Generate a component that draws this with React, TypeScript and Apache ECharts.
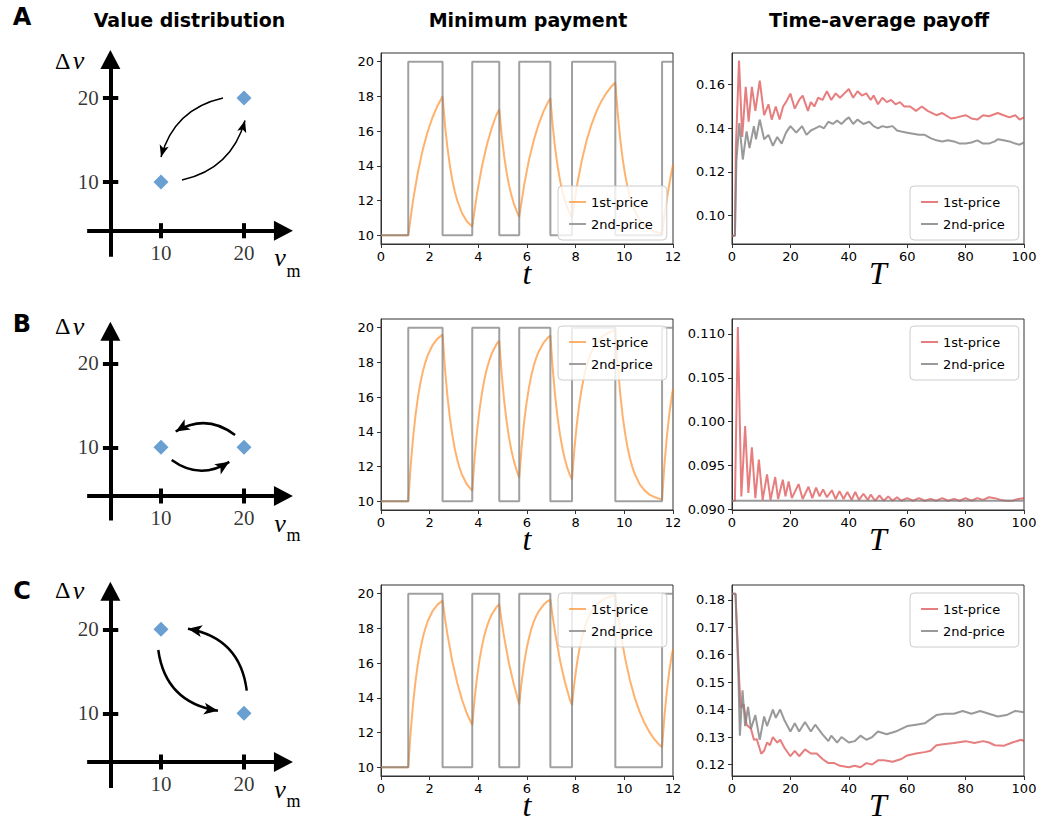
import React, { useEffect, useRef } from "react";
import * as echarts from "echarts";

// ---------------- DATA ----------------
// Value-distribution diagrams (v_m, Δν) — the two states per scenario
const diagTicks = [10, 20];
const diamondsA = [[10, 10], [20, 20]];
const diamondsB = [[10, 10], [20, 10]];
const diamondsC = [[10, 20], [20, 10]];

// Minimum payment panels
const paymentYTicks = [10, 12, 14, 16, 18, 20];
const secondPricePayment = [
  [0, 10], [1.12, 20], [2.53, 10], [3.75, 20], [4.86, 10], [5.68, 20],
  [6.96, 10], [7.85, 20], [9.63, 10], [11.55, 20], [12, 20],
];
const firstPricePaymentA = [
  [0, 10], [1.12, 10], [1.32, 12.04], [1.52, 13.66], [1.72, 14.95], [1.92, 15.98], [2.12, 16.8], [2.32, 17.45], [2.53, 18.0],
  [2.63, 16.35], [2.73, 15.05], [2.83, 14.02], [2.93, 13.19], [3.03, 12.54], [3.13, 12.02], [3.33, 11.27], [3.53, 10.8], [3.75, 10.5],
  [3.95, 12.44], [4.15, 13.98], [4.35, 15.2], [4.55, 16.18], [4.75, 16.96], [4.86, 17.25],
  [4.96, 15.76], [5.06, 14.57], [5.16, 13.64], [5.26, 12.89], [5.36, 12.3], [5.46, 11.83], [5.57, 11.41], [5.68, 11.05],
  [5.88, 12.88], [6.08, 14.33], [6.28, 15.48], [6.48, 16.4], [6.68, 17.14], [6.84, 17.6], [6.96, 17.9],
  [7.06, 16.27], [7.16, 14.98], [7.26, 13.97], [7.36, 13.15], [7.46, 12.5], [7.56, 11.99], [7.66, 11.58], [7.76, 11.27], [7.85, 11.0],
  [8.05, 12.84], [8.25, 14.29], [8.45, 15.46], [8.65, 16.38], [8.85, 17.12], [9.05, 17.71], [9.25, 18.17], [9.45, 18.54], [9.63, 18.8],
  [9.73, 16.99], [9.83, 15.55], [9.93, 14.42], [10.03, 13.51], [10.13, 12.79], [10.23, 12.22], [10.33, 11.78], [10.43, 11.4],
  [10.63, 10.88], [10.83, 10.56], [11.03, 10.35], [11.23, 10.22], [11.55, 10.1],
  [11.65, 11.17], [11.75, 12.12], [11.9, 13.36], [12, 14.07],
];
const firstPricePaymentB = [
  [0, 10], [1.12, 10], [1.22, 12.06], [1.32, 13.69], [1.42, 14.98], [1.52, 16.01], [1.62, 16.83], [1.72, 17.48], [1.82, 17.99], [1.92, 18.41], [2.12, 19.0], [2.32, 19.37], [2.53, 19.6],
  [2.63, 17.62], [2.73, 16.06], [2.83, 14.82], [2.93, 13.83], [3.03, 13.04], [3.13, 12.42], [3.23, 11.92], [3.33, 11.53], [3.53, 10.97], [3.75, 10.6],
  [3.85, 12.54], [3.95, 14.07], [4.05, 15.28], [4.15, 16.25], [4.25, 17.02], [4.35, 17.63], [4.45, 18.1], [4.55, 18.51], [4.75, 19.06], [4.86, 19.25],
  [4.96, 17.33], [5.06, 15.82], [5.16, 14.63], [5.26, 13.68], [5.36, 12.93], [5.46, 12.33], [5.57, 11.8], [5.68, 11.35],
  [5.78, 13.13], [5.88, 14.54], [5.98, 15.66], [6.08, 16.55], [6.18, 17.26], [6.28, 17.82], [6.38, 18.27], [6.48, 18.62], [6.68, 19.13], [6.84, 19.4], [6.96, 19.55],
  [7.06, 17.58], [7.16, 16.03], [7.26, 14.79], [7.36, 13.81], [7.46, 13.03], [7.56, 12.41], [7.66, 11.91], [7.76, 11.52], [7.85, 11.25],
  [7.95, 13.05], [8.05, 14.48], [8.15, 15.61], [8.25, 16.51], [8.35, 17.23], [8.45, 17.79], [8.55, 18.25], [8.65, 18.61], [8.85, 19.12], [9.05, 19.45], [9.25, 19.65], [9.45, 19.78], [9.63, 19.85],
  [9.73, 17.82], [9.83, 16.22], [9.93, 14.94], [10.03, 13.93], [10.13, 13.12], [10.23, 12.48], [10.33, 11.97], [10.43, 11.57],
  [10.63, 10.99], [10.83, 10.63], [11.03, 10.39], [11.23, 10.25], [11.55, 10.1],
  [11.65, 12.14], [11.75, 13.75], [11.85, 15.03], [11.95, 16.05], [12, 16.48],
];
const firstPricePaymentC = [
  [0, 10], [1.12, 10], [1.22, 12.06], [1.32, 13.69], [1.42, 14.98], [1.52, 16.01], [1.62, 16.83], [1.72, 17.48], [1.82, 17.99], [1.92, 18.41], [2.12, 19.0], [2.32, 19.37], [2.53, 19.6],
  [2.63, 18.57], [2.73, 17.66], [2.93, 16.11], [3.13, 14.88], [3.33, 13.89], [3.53, 13.1], [3.75, 12.43],
  [3.85, 13.99], [3.95, 15.22], [4.05, 16.2], [4.15, 16.98], [4.25, 17.6], [4.35, 18.09], [4.45, 18.49], [4.55, 18.8], [4.75, 19.24], [4.86, 19.4],
  [4.96, 18.39], [5.06, 17.5], [5.26, 15.98], [5.46, 14.77], [5.57, 14.21], [5.68, 13.62],
  [5.78, 14.93], [5.88, 15.97], [5.98, 16.8], [6.08, 17.45], [6.18, 17.98], [6.28, 18.39], [6.38, 18.72], [6.48, 18.98], [6.68, 19.36], [6.84, 19.56], [6.96, 19.66],
  [7.06, 18.63], [7.16, 17.71], [7.36, 16.14], [7.56, 14.9], [7.76, 13.91], [7.85, 13.58],
  [7.95, 14.9], [8.05, 15.95], [8.15, 16.78], [8.25, 17.44], [8.35, 17.96], [8.45, 18.38], [8.55, 18.71], [8.65, 18.98], [8.85, 19.36], [9.05, 19.6], [9.25, 19.74], [9.45, 19.84], [9.63, 19.89],
  [9.73, 18.83], [9.83, 17.89], [10.03, 16.29], [10.23, 15.02], [10.43, 14.0], [10.63, 13.19], [10.83, 12.55], [11.03, 12.04], [11.23, 11.62], [11.43, 11.31], [11.55, 11.15],
  [11.65, 12.97], [11.75, 14.42], [11.85, 15.56], [11.95, 16.47], [12, 16.8],
];

// Time-average payoff panels
const payoffYTicksA = [0.1, 0.12, 0.14, 0.16];
const payoffYTicksB = [0.09, 0.095, 0.1, 0.105, 0.11];
const payoffYTicksC = [0.12, 0.13, 0.14, 0.15, 0.16, 0.17, 0.18];

const payoff1stA = [
  [0, 0.0908], [1, 0.0908], [1.3, 0.13], [2.4, 0.1711], [3.5, 0.136], [4.7, 0.159], [5.7, 0.143], [6.8, 0.159], [8, 0.148],
  [9.5, 0.1618], [11, 0.146], [12.5, 0.151], [13.6, 0.144], [15, 0.15], [16.3, 0.144], [17.5, 0.15], [18.5, 0.152], [20, 0.1559],
  [21.5, 0.149], [23, 0.153], [24.2, 0.155], [26, 0.148], [27, 0.152], [28.2, 0.15], [29.5, 0.154], [31, 0.153], [32.5, 0.157],
  [34, 0.153], [35.5, 0.156], [37, 0.154], [38.5, 0.156], [40, 0.158], [41.5, 0.154], [43, 0.157], [44.5, 0.155], [46, 0.156],
  [47.5, 0.153], [48.5, 0.155], [50, 0.151], [51.5, 0.154], [53, 0.152], [54.5, 0.153], [56, 0.151], [57.5, 0.152], [59, 0.15],
  [61, 0.15], [63, 0.148], [65, 0.15], [67, 0.148], [70, 0.146], [72, 0.147], [75, 0.1445], [77, 0.145], [80, 0.146], [82, 0.1445],
  [84, 0.144], [86, 0.146], [88, 0.1455], [91, 0.147], [93, 0.146], [95, 0.145], [97, 0.146], [98.5, 0.144], [100, 0.145],
];
const payoff2ndA = [
  [0, 0.0908], [1, 0.0908], [1.5, 0.125], [2.5, 0.1424], [3.7, 0.1257], [5, 0.1386], [6, 0.131], [7.5, 0.141], [8.2, 0.135],
  [9.5, 0.144], [11, 0.135], [12.5, 0.137], [14, 0.132], [15.5, 0.136], [17, 0.133], [18.5, 0.138], [20, 0.141], [22, 0.138],
  [24, 0.141], [25.5, 0.137], [27, 0.139], [28.5, 0.14], [30, 0.141], [31.5, 0.14], [33, 0.143], [34.5, 0.142], [36, 0.1435],
  [37.5, 0.142], [39, 0.144], [40, 0.145], [41.5, 0.142], [43, 0.144], [45, 0.142], [47, 0.143], [48.5, 0.141], [50, 0.14],
  [51.5, 0.141], [53, 0.1405], [55, 0.141], [56.5, 0.139], [58, 0.1385], [60, 0.138], [62, 0.1375], [64, 0.137], [66, 0.137],
  [68, 0.1355], [70, 0.1345], [72, 0.134], [74, 0.1345], [76, 0.134], [78, 0.133], [80, 0.133], [82, 0.1335], [84, 0.1345],
  [86, 0.133], [88, 0.133], [90, 0.134], [91, 0.135], [93, 0.1345], [95, 0.134], [97, 0.133], [98.5, 0.1325], [100, 0.1335],
];
const payoff1stB = [
  [0, 0.091], [1, 0.091], [2, 0.1108], [3.2, 0.0915], [4.5, 0.0995], [5.6, 0.0919], [6.8, 0.0971], [8, 0.0913], [9.2, 0.0957],
  [10.5, 0.0911], [12, 0.094], [13.2, 0.0911], [14.8, 0.0937], [15.8, 0.0912], [17.4, 0.0934], [18.3, 0.0915], [19.4, 0.0932],
  [20.5, 0.0913], [22.8, 0.0929], [24.2, 0.0912], [26.2, 0.0926], [27.5, 0.0913], [28.8, 0.0925], [30, 0.0915], [31.2, 0.0923],
  [32.5, 0.0914], [34.2, 0.0922], [35.5, 0.0912], [36.8, 0.0921], [38.2, 0.0912], [39.5, 0.092], [41, 0.0911], [42.2, 0.092],
  [43.5, 0.0911], [45, 0.0918], [46.5, 0.0911], [47.5, 0.0917], [49, 0.091], [50.5, 0.0916], [52, 0.091], [53.5, 0.0915],
  [55, 0.091], [56.5, 0.0914], [58, 0.091], [60, 0.0913], [62, 0.091], [64, 0.0913], [66, 0.091], [68, 0.0912], [70, 0.091],
  [72, 0.0913], [74, 0.091], [76, 0.0912], [78, 0.091], [80, 0.0913], [82, 0.091], [84, 0.0913], [86, 0.0911], [88, 0.0914],
  [90, 0.0913], [92, 0.0911], [94, 0.091], [96, 0.091], [98, 0.0912], [100, 0.0913],
];
const payoff2ndB = [[0, 0.091], [100, 0.091]];
const payoff1stC = [
  [0, 0.1822], [1.2, 0.1822], [2.5, 0.15], [3, 0.1405], [4, 0.142], [5, 0.1345], [6.5, 0.133], [7.5, 0.129], [8.5, 0.1292],
  [10, 0.1239], [11, 0.125], [12, 0.128], [13, 0.127], [14, 0.13], [15.5, 0.128], [16.5, 0.129], [18, 0.126], [20, 0.123],
  [21.5, 0.125], [23, 0.123], [25, 0.1255], [27, 0.124], [29, 0.124], [31, 0.122], [33, 0.1205], [35, 0.1205], [37, 0.1195],
  [40, 0.119], [42, 0.1195], [44, 0.119], [46, 0.1205], [48, 0.12], [50, 0.1215], [52, 0.1215], [55, 0.121], [58, 0.122],
  [60, 0.1233], [63, 0.124], [66, 0.1245], [68, 0.125], [70, 0.127], [73, 0.1275], [76, 0.1278], [80, 0.1285], [83, 0.1278],
  [86, 0.1285], [88, 0.128], [90, 0.127], [93, 0.1268], [96, 0.128], [99, 0.129], [100, 0.1285],
];
const payoff2ndC = [
  [0, 0.1822], [1.2, 0.1822], [2.2, 0.152], [2.7, 0.1305], [3.6, 0.147], [4.5, 0.134], [5.5, 0.141], [6.5, 0.133], [8, 0.138],
  [9.5, 0.129], [11, 0.1375], [12, 0.134], [14, 0.14], [15, 0.137], [16.5, 0.14], [18, 0.136], [20, 0.132], [21.5, 0.135],
  [23, 0.132], [25, 0.1355], [27, 0.132], [28.5, 0.1345], [31, 0.131], [33, 0.1285], [34, 0.1305], [36, 0.128], [37.5, 0.13],
  [40, 0.128], [42, 0.1285], [44, 0.1305], [46, 0.129], [48, 0.13], [50, 0.132], [53, 0.131], [56, 0.132], [60, 0.134],
  [63, 0.1345], [66, 0.135], [70, 0.138], [73, 0.1385], [76, 0.1385], [79, 0.1395], [82, 0.1385], [85, 0.1395], [88, 0.1385],
  [91, 0.1375], [94, 0.138], [97, 0.1395], [100, 0.139],
];

// ---------------- STYLE / LAYOUT ----------------
const SANS = "'DejaVu Sans', 'Liberation Sans', sans-serif";
const SERIF = "'Liberation Serif', 'DejaVu Serif', serif";
const ORANGE = "rgba(255,127,14,0.6)";
const GRAY_MID = "rgba(128,128,128,0.75)";
const RED = "rgba(214,39,40,0.6)";
const GRAY_RIGHT = "rgba(128,128,128,0.8)";
const DIAMOND = "#6a9fd2";
const AXIS_COLOR = "#333";

const MID_LEFT = 381;
const RIGHT_LEFT = 732;
const PLOT_W = 292;
const PLOT_H = 191;
const ROW_TOP = [53, 319, 585];
const DIAG_TOP = [14, 279.3, 545.3];
const CROSS_X = 3.9;
const CROSS_Y = 4.2;

const rows = [
  {
    letter: "A", letterY: 16.7, diamonds: diamondsA, firstPay: firstPricePaymentA,
    p1: payoff1stA, p2: payoff2ndA, pyMin: 0.087, pyMax: 0.1745, pyTicks: payoffYTicksA, pyDec: 2,
    vTop: 24.57, vBottom: 1.1, curv: -0.3, arrowWidth: 1.5, head: [7, 12],
    arrows: [
      [[17.47, 20.0], [10.0, 12.98]],
      [[12.53, 10.24], [20.12, 17.32]],
    ],
    deltaY: 60.5, vmY: 257, mY: 270.5, legendTop: 186,
  },
  {
    letter: "B", letterY: 324, diamonds: diamondsB, firstPay: firstPricePaymentB,
    p1: payoff1stB, p2: payoff2ndB, pyMin: 0.08995, pyMax: 0.1117, pyTicks: payoffYTicksB, pyDec: 3,
    vTop: 23.82, vBottom: 1.3, curv: -0.34, arrowWidth: 2.5, head: [9, 14],
    arrows: [
      [[18.92, 11.46], [11.77, 11.88]],
      [[11.29, 8.49], [18.23, 8.27]],
    ],
    deltaY: 326, vmY: 523, mY: 535, legendTop: 326,
  },
  {
    letter: "C", letterY: 590.8, diamonds: diamondsC, firstPay: firstPricePaymentC,
    p1: payoff1stC, p2: payoff2ndC, pyMin: 0.1158, pyMax: 0.1854, pyTicks: payoffYTicksC, pyDec: 2,
    vTop: 24.54, vBottom: 1.1, curv: -0.37, arrowWidth: 2.5, head: [9, 14],
    arrows: [
      [[20.33, 12.69], [13.25, 20.07]],
      [[9.67, 17.54], [16.86, 10.3]],
    ],
    deltaY: 590, vmY: 789, mY: 801, legendTop: 593,
  },
];

function buildOption() {
  const grids: any[] = [];
  const xAxes: any[] = [];
  const yAxes: any[] = [];
  const series: any[] = [];
  const legends: any[] = [];
  const graphics: any[] = [];

  const tickLabelStyle = { fontFamily: SANS, fontSize: 13, color: "#000", margin: 6 };
  const axisLineStyle = { show: true, onZero: false, lineStyle: { color: AXIS_COLOR, width: 1 } };
  const axisTickStyle = { show: true, length: 4, lineStyle: { color: AXIS_COLOR, width: 1 } };
  const nameStyle = { fontFamily: SERIF, fontStyle: "italic", fontSize: 32, color: "#000", lineHeight: 18 };

  const txt = (text: string, x: number, y: number, o: any = {}) => ({
    type: "text",
    x,
    y,
    silent: true,
    style: {
      text,
      fill: "#000",
      textAlign: o.align || "center",
      align: o.align || "center",
      textVerticalAlign: "middle",
      verticalAlign: "middle",
      fontFamily: o.family || SANS,
      fontSize: o.size || 13,
      fontWeight: o.weight || "normal",
      fontStyle: o.style || "normal",
    },
  });

  graphics.push(txt("Value distribution", 189.5, 19.7, { size: 19, weight: "bold" }));
  graphics.push(txt("Minimum payment", 528, 19.7, { size: 19, weight: "bold" }));
  graphics.push(txt("Time-average payoff", 879, 19.7, { size: 19, weight: "bold" }));

  rows.forEach((r, i) => {
    const gD = i * 3;
    const gM = i * 3 + 1;
    const gR = i * 3 + 2;

    // --- diagram grid (hidden axes, used for positioning marks) ---
    grids.push({ left: 78, top: DIAG_TOP[i], width: 249, height: 252, show: false, containLabel: false, outerBoundsMode: "none" });
    xAxes.push({ type: "value", gridIndex: gD, min: 0, max: 30, show: false });
    yAxes.push({ type: "value", gridIndex: gD, min: 0, max: 30, show: false });

    // --- minimum payment grid ---
    grids.push({
      left: MID_LEFT, top: ROW_TOP[i], width: PLOT_W, height: PLOT_H,
      show: true, borderColor: AXIS_COLOR, borderWidth: 1, backgroundColor: "transparent",
      containLabel: false, outerBoundsMode: "none",
    });
    xAxes.push({
      type: "value", gridIndex: gM, min: 0, max: 12, interval: 2,
      axisLine: axisLineStyle, axisTick: axisTickStyle, axisLabel: tickLabelStyle,
      splitLine: { show: false },
      name: "t", nameLocation: "middle", nameGap: 20, nameMoveOverlap: false, nameTextStyle: nameStyle,
    });
    yAxes.push({
      type: "value", gridIndex: gM, min: 9.5, max: 20.5,
      axisLine: axisLineStyle,
      axisTick: { ...axisTickStyle, customValues: paymentYTicks },
      axisLabel: { ...tickLabelStyle, margin: 7, customValues: paymentYTicks },
      splitLine: { show: false },
    });

    // --- payoff grid ---
    grids.push({
      left: RIGHT_LEFT, top: ROW_TOP[i], width: PLOT_W, height: PLOT_H,
      show: true, borderColor: AXIS_COLOR, borderWidth: 1, backgroundColor: "transparent",
      containLabel: false, outerBoundsMode: "none",
    });
    xAxes.push({
      type: "value", gridIndex: gR, min: 0, max: 100, interval: 20,
      axisLine: axisLineStyle, axisTick: axisTickStyle, axisLabel: tickLabelStyle,
      splitLine: { show: false },
      name: "T", nameLocation: "middle", nameGap: 20, nameMoveOverlap: false, nameTextStyle: nameStyle,
    });
    const dec = r.pyDec;
    yAxes.push({
      type: "value", gridIndex: gR, min: r.pyMin, max: r.pyMax,
      axisLine: axisLineStyle,
      axisTick: { ...axisTickStyle, customValues: r.pyTicks },
      axisLabel: { ...tickLabelStyle, margin: 7, customValues: r.pyTicks, formatter: (v: number) => v.toFixed(dec) },
      splitLine: { show: false },
    });

    // ---------- diagram series ----------
    series.push({
      type: "lines", coordinateSystem: "cartesian2d", xAxisIndex: gD, yAxisIndex: gD, silent: true,
      symbol: ["none", "triangle"], symbolSize: [0, [20, 19]],
      lineStyle: { color: "#000", width: 4, opacity: 1, curveness: 0 },
      data: [
        { coords: [[1.1, CROSS_Y], [24.75, CROSS_Y]] },
        { coords: [[CROSS_X, r.vBottom], [CROSS_X, r.vTop]] },
      ],
      z: 3,
    });
    series.push({
      type: "lines", coordinateSystem: "cartesian2d", xAxisIndex: gD, yAxisIndex: gD, silent: true,
      symbol: ["none", "none"],
      lineStyle: { color: "#000", width: 4, opacity: 1, curveness: 0 },
      data: [
        ...diagTicks.map((v) => ({ coords: [[v, CROSS_Y - 0.9], [v, CROSS_Y + 0.9]] })),
        ...diagTicks.map((v) => ({ coords: [[CROSS_X - 0.9, v], [CROSS_X + 0.95, v]] })),
      ],
      z: 3,
    });
    series.push({
      type: "lines", coordinateSystem: "cartesian2d", xAxisIndex: gD, yAxisIndex: gD, silent: true,
      symbol: ["none", "arrow"], symbolSize: [0, r.head],
      lineStyle: { color: "#000", width: r.arrowWidth, opacity: 1, curveness: r.curv },
      data: r.arrows.map((a) => ({ coords: a })),
      z: 3,
    });
    series.push({
      type: "scatter", xAxisIndex: gD, yAxisIndex: gD, silent: true,
      symbol: "diamond", symbolSize: 15,
      itemStyle: { color: DIAMOND, opacity: 1 },
      data: r.diamonds,
      z: 4,
    });
    series.push({
      type: "scatter", xAxisIndex: gD, yAxisIndex: gD, silent: true,
      symbolSize: 1, itemStyle: { color: "rgba(0,0,0,0)" },
      data: diagTicks.map((v) => [v, CROSS_Y]),
      label: {
        show: true, position: "bottom", distance: 11,
        formatter: (p: any) => String(p.value[0]),
        fontFamily: SERIF, fontSize: 21, color: "#000",
      },
    });
    series.push({
      type: "scatter", xAxisIndex: gD, yAxisIndex: gD, silent: true,
      symbolSize: 1, itemStyle: { color: "rgba(0,0,0,0)" },
      data: diagTicks.map((v) => [CROSS_X, v]),
      label: {
        show: true, position: "left", distance: 11,
        formatter: (p: any) => String(p.value[1]),
        fontFamily: SERIF, fontSize: 21, color: "#000",
      },
    });

    // ---------- minimum payment series ----------
    series.push({
      type: "line", name: "1st-price", xAxisIndex: gM, yAxisIndex: gM, silent: true,
      data: r.firstPay, showSymbol: false, symbol: "none",
      lineStyle: { color: ORANGE, width: 2 }, itemStyle: { color: ORANGE },
      z: 2,
    });
    series.push({
      type: "line", name: "2nd-price", xAxisIndex: gM, yAxisIndex: gM, silent: true,
      data: secondPricePayment, step: "end", showSymbol: false, symbol: "none",
      lineStyle: { color: GRAY_MID, width: 2 }, itemStyle: { color: GRAY_MID },
      z: 2,
    });

    // ---------- payoff series ----------
    series.push({
      type: "line", name: "payoff 1st-price", xAxisIndex: gR, yAxisIndex: gR, silent: true,
      data: r.p1, showSymbol: false, symbol: "none",
      lineStyle: { color: RED, width: 2 }, itemStyle: { color: RED },
      z: 2,
    });
    series.push({
      type: "line", name: "payoff 2nd-price", xAxisIndex: gR, yAxisIndex: gR, silent: true,
      data: r.p2, showSymbol: false, symbol: "none",
      lineStyle: { color: GRAY_RIGHT, width: 2 }, itemStyle: { color: GRAY_RIGHT },
      z: 2,
    });

    const legendBase = {
      orient: "vertical", icon: "rect", itemWidth: 17, itemHeight: 2, itemGap: 8,
      selectedMode: false,
      backgroundColor: "rgba(255,255,255,0.8)", borderColor: "#ccc", borderWidth: 1, borderRadius: 4,
      padding: [9, 14, 9, 11],
      textStyle: { fontFamily: SANS, fontSize: 13, color: "#000", lineHeight: 14 },
      z: 10,
    };
    legends.push({ ...legendBase, left: 558, top: r.legendTop, data: ["1st-price", "2nd-price"] });
    legends.push({
      ...legendBase, left: 910, top: r.legendTop,
      data: ["payoff 1st-price", "payoff 2nd-price"],
      formatter: (n: string) => n.replace("payoff ", ""),
    });

    // ---------- texts ----------
    graphics.push(txt(r.letter, 22, r.letterY, { size: 24, weight: "bold" }));
    graphics.push(txt("Δ", 62.8, r.deltaY, { family: SERIF, size: 24 }));
    graphics.push(txt("ν", 78.5, r.deltaY, { family: SERIF, size: 26, style: "italic" }));
    graphics.push(txt("ν", 280, r.vmY, { family: SERIF, size: 26, style: "italic" }));
    graphics.push(txt("m", 293.5, r.mY, { family: SERIF, size: 18 }));
  });

  return {
    animation: false,
    backgroundColor: "#fff",
    textStyle: { fontFamily: SANS },
    grid: grids,
    xAxis: xAxes,
    yAxis: yAxes,
    legend: legends,
    series,
    graphic: { elements: graphics },
  };
}

export default function App() {
  const ref = useRef<HTMLDivElement>(null);
  useEffect(() => {
    if (!ref.current) return;
    const chart = echarts.init(ref.current, null, { renderer: "svg" });
    chart.setOption(buildOption() as any);
    return () => chart.dispose();
  }, []);
  return (
    <div
      ref={ref}
      style={{ position: "absolute", left: 0, top: 0, width: 1043, height: 829, background: "#fff" }}
    />
  );
}
